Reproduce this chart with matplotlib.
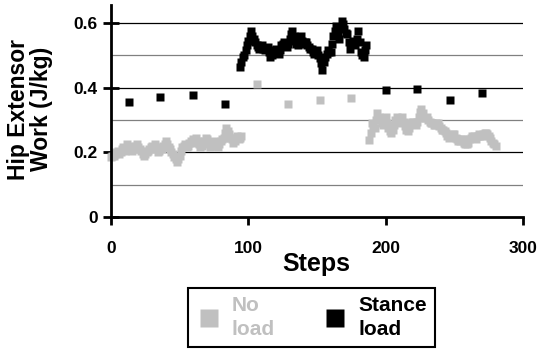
import matplotlib
matplotlib.use("Agg")
import matplotlib.pyplot as plt

plt.rcParams['font.family'] = ['Liberation Sans', 'DejaVu Sans']
plt.rcParams['font.weight'] = 'bold'

# No load - first dense block starts at step 0
noload_start_a = 0
noload_vals_a = [0.185, 0.19, 0.19, 0.195, 0.20, 0.205, 0.195, 0.20, 0.21, 0.215,
                 0.205, 0.21, 0.225, 0.22, 0.215, 0.205, 0.21, 0.215, 0.22, 0.225,
                 0.215, 0.21, 0.205, 0.195, 0.19, 0.195, 0.20, 0.205, 0.21, 0.215,
                 0.22, 0.215, 0.225, 0.21, 0.20, 0.205, 0.215, 0.21, 0.22, 0.225,
                 0.235, 0.225, 0.215, 0.21, 0.20, 0.195, 0.185, 0.18, 0.17, 0.18,
                 0.19, 0.205, 0.215, 0.22, 0.225, 0.215, 0.22, 0.23, 0.235, 0.23,
                 0.24, 0.235, 0.245, 0.235, 0.225, 0.215, 0.22, 0.23, 0.235, 0.245,
                 0.24, 0.225, 0.215, 0.22, 0.225, 0.235, 0.23, 0.22, 0.215, 0.225,
                 0.235, 0.24, 0.245, 0.26, 0.275, 0.265, 0.255, 0.245, 0.24, 0.23,
                 0.235, 0.245, 0.25, 0.24, 0.245, 0.25]
# No load - second dense block starts at step 188
noload_start_b = 188
noload_vals_b = [0.238, 0.26, 0.29, 0.28, 0.275, 0.30, 0.32, 0.31, 0.30, 0.29,
                 0.285, 0.30, 0.31, 0.29, 0.275, 0.265, 0.26, 0.27, 0.285, 0.30,
                 0.31, 0.30, 0.29, 0.30, 0.31, 0.295, 0.28, 0.27, 0.265, 0.275,
                 0.29, 0.295, 0.295, 0.29, 0.285, 0.295, 0.31, 0.325, 0.335, 0.32,
                 0.305, 0.305, 0.31, 0.30, 0.295, 0.29, 0.29, 0.285, 0.285, 0.29,
                 0.29, 0.28, 0.275, 0.27, 0.27, 0.265, 0.26, 0.25, 0.245, 0.25,
                 0.25, 0.255, 0.255, 0.245, 0.24, 0.235, 0.235, 0.24, 0.24, 0.23,
                 0.225, 0.225, 0.23, 0.24, 0.245, 0.25, 0.25, 0.245, 0.24, 0.25,
                 0.255, 0.25, 0.25, 0.255, 0.26, 0.26, 0.255, 0.25, 0.245, 0.235,
                 0.23, 0.225, 0.22]
noload_sparse_steps = [106, 129, 152, 175]
noload_sparse_vals = [0.41, 0.35, 0.362, 0.368]

# Stance load - dense block starts at step 94
stance_start = 94
stance_vals = [0.462, 0.48, 0.495, 0.50, 0.515, 0.53, 0.545, 0.56, 0.575, 0.56,
               0.55, 0.54, 0.53, 0.525, 0.52, 0.525, 0.53, 0.52, 0.515, 0.52,
               0.525, 0.51, 0.495, 0.50, 0.51, 0.515, 0.52, 0.51, 0.505, 0.515,
               0.53, 0.535, 0.54, 0.53, 0.525, 0.535, 0.55, 0.565, 0.575, 0.56,
               0.545, 0.535, 0.53, 0.545, 0.56, 0.545, 0.535, 0.54, 0.54, 0.53,
               0.525, 0.52, 0.52, 0.51, 0.505, 0.51, 0.515, 0.50, 0.49, 0.475,
               0.455, 0.48, 0.495, 0.505, 0.515, 0.51, 0.51, 0.535, 0.56, 0.575,
               0.59, 0.57, 0.55, 0.585, 0.605, 0.595, 0.58, 0.57, 0.565, 0.54,
               0.52, 0.535, 0.545, 0.535, 0.53, 0.55, 0.575, 0.54, 0.51, 0.50,
               0.495, 0.515, 0.53]
stance_sparse_steps = [13, 36, 60, 83, 200, 223, 247, 270]
stance_sparse_vals = [0.354, 0.372, 0.376, 0.35, 0.392, 0.394, 0.362, 0.384]

gray = '#c0c0c0'

fig = plt.figure(figsize=(5.42, 3.49), dpi=100)
ax = fig.add_axes([111/542, 1-217/349, 412/542, 212/349])

nl_x = (list(range(noload_start_a, noload_start_a + len(noload_vals_a)))
        + noload_sparse_steps
        + list(range(noload_start_b, noload_start_b + len(noload_vals_b))))
nl_y = noload_vals_a + noload_sparse_vals + noload_vals_b
st_x = (stance_sparse_steps[:4]
        + list(range(stance_start, stance_start + len(stance_vals)))
        + stance_sparse_steps[4:])
st_y = stance_sparse_vals[:4] + stance_vals + stance_sparse_vals[4:]

ms = 5.2
ax.plot(nl_x, nl_y, 's', color=gray, ms=ms, mec='none', label='No\nload', clip_on=False)
ax.plot(st_x, st_y, 's', color='black', ms=ms, mec='none', label='Stance\nload', clip_on=False)

ax.set_xlim(0, 300)
ax.set_ylim(0, 0.655)
for yv in [0.1, 0.3, 0.5]:
    ax.axhline(yv, color='#808080', lw=0.9, zorder=0)
for yv in [0.2, 0.4, 0.6]:
    ax.axhline(yv, color='black', lw=0.9, zorder=0)

ax.set_xticks([0, 100, 200, 300])
ax.set_xticklabels(['0', '100', '200', '300'])
ax.set_yticks([0, 0.2, 0.4, 0.6])
ax.set_yticklabels(['0', '0.2', '0.4', '0.6'])
ax.tick_params(axis='x', direction='out', length=6, width=2, pad=11, labelsize=12.5)
ax.tick_params(axis='y', direction='inout', length=11, width=2, pad=4, labelsize=12.5)
for s in ['top', 'right']:
    ax.spines[s].set_visible(False)
for s in ['left', 'bottom']:
    ax.spines[s].set_linewidth(2)

fig.text(30/542, 1-109/349, 'Hip Extensor\nWork (J/kg)', rotation=90,
         ha='center', va='center', fontsize=16.5, fontweight='bold', linespacing=1.0)
fig.text(316/542, 1-264/349, 'Steps', ha='center', va='center',
         fontsize=18, fontweight='bold')

leg = ax.legend(loc='lower left', bbox_to_anchor=(188/542, 2/349),
                bbox_transform=fig.transFigure, ncol=2,
                markerscale=2.6, fancybox=False, edgecolor='black', framealpha=1,
                prop={'size': 15, 'weight': 'bold'}, labelcolor=[gray, 'black'],
                handletextpad=0.5, columnspacing=2.3, borderaxespad=0,
                borderpad=0.4, handlelength=1.2)
leg.get_frame().set_linewidth(1.5)
for t in leg.get_texts():
    t.set_linespacing(1.3)

fig.savefig('out.png', dpi=100)
